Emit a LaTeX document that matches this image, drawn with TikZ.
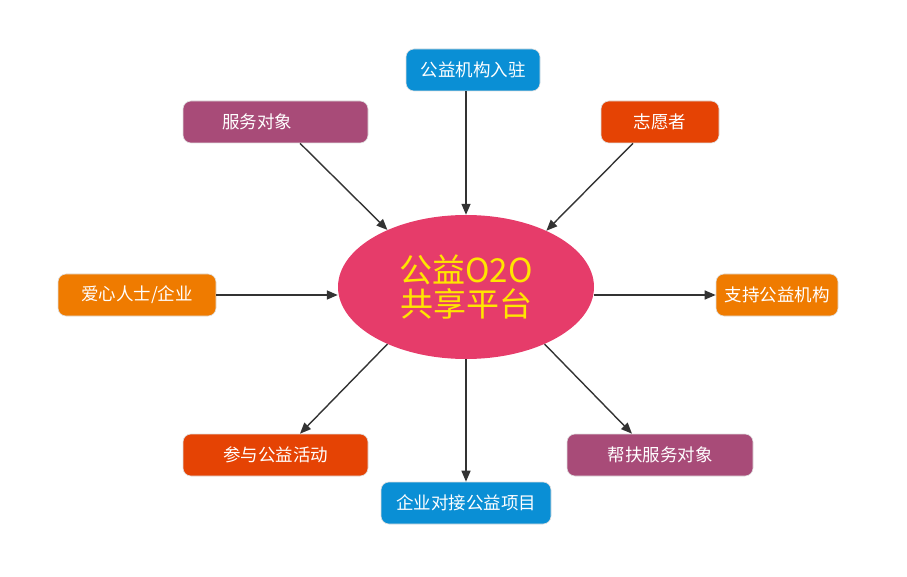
\documentclass[tikz,border=0pt]{standalone}
\usepackage{fontspec}
\setmainfont{Noto Sans CJK SC}
\usetikzlibrary{arrows.meta,shapes.geometric}
\definecolor{cblue}{HTML}{0A8FD5}
\definecolor{cpurple}{HTML}{A84B78}
\definecolor{cred}{HTML}{E54304}
\definecolor{corange}{HTML}{EF7B00}
\definecolor{cpink}{HTML}{E63C6A}
\definecolor{cyellow}{HTML}{FFE500}
\definecolor{cline}{HTML}{333333}
\begin{document}
\begin{tikzpicture}[x=1pt,y=-1pt,
  box/.style={rounded corners=8pt, minimum height=42pt, inner sep=0pt, text=white,
    font=\fontsize{17.5}{19}\selectfont, draw=white!75!gray, line width=0.6pt},
  conn/.style={draw=cline, line width=1.4pt, -{Triangle[length=11pt,width=9pt]}}]
\useasboundingbox (0,0) rectangle (907,577);
\node[ellipse, fill=cpink, minimum width=256pt, minimum height=144pt, inner sep=0pt,
  text=cyellow, align=center, font=\fontsize{33}{34}\selectfont] (ell) at (466,287) {公益O2O\\共享平台};
\node[box, fill=cblue, minimum width=134pt] (gy) at (473,70) {公益机构入驻};
\node[box, fill=cpurple, minimum width=185pt] (fw) at (275.5,122) {服务对象\kern37pt};
\node[box, fill=cred, minimum width=118pt] (zy) at (660,122) {志愿者};
\node[box, fill=corange, minimum width=158pt] (ax) at (137,295) {爱心人士/企业};
\node[box, fill=corange, minimum width=122pt] (zc) at (777,295) {支持公益机构};
\node[box, fill=cred, minimum width=185pt] (cy) at (275.5,455) {参与公益活动};
\node[box, fill=cpurple, minimum width=186pt] (bf) at (660,455) {帮扶服务对象};
\node[box, fill=cblue, minimum width=170pt] (qy) at (466,503) {企业对接公益项目};
\draw[conn] ([xshift=-7pt]gy.south) -- (ell.north);
\draw[conn] ([xshift=24.5pt]fw.south) -- (ell.144);
\draw[conn] ([xshift=-27pt]zy.south) -- (ell.35.5);
\draw[conn] (ax.east) -- (ax.east -| ell.west);
\draw[conn] (zc.west -| ell.east) -- (zc.west);
\draw[conn] (ell.216.2) -- ([xshift=24.5pt]cy.north);
\draw[conn] (ell.324.2) -- ([xshift=-28pt]bf.north);
\draw[conn] (ell.south) -- (qy.north);
\end{tikzpicture}
\end{document}
